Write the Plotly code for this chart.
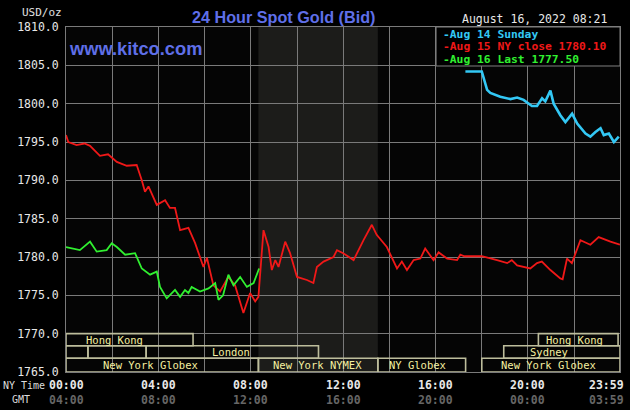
import plotly.graph_objects as go

# ---------------- data ----------------
red_hours = [0.0, 0.1, 0.46, 0.8, 1.04, 1.47, 1.82, 2.2, 2.63, 3.06, 3.28, 3.42, 3.57, 3.93, 4.29, 4.5, 4.72,
             4.94, 5.3, 5.59, 5.95, 6.1, 6.38, 6.67, 7.03, 7.32, 7.68, 7.97, 8.19, 8.33, 8.55, 8.77, 8.91,
             9.06, 9.2, 9.49, 9.7, 10.0, 10.43, 10.71, 10.86, 11.15, 11.58, 11.73, 12.0, 12.45, 12.88,
             13.24, 13.45, 13.89, 14.33, 14.54, 14.76, 15.05, 15.34, 15.55, 15.91, 16.13, 16.5, 16.93,
             17.07, 17.25, 18.0, 18.15, 18.66, 19.1, 19.3, 19.53, 20.1, 20.39, 20.6, 20.97, 21.4, 21.5,
             21.69, 21.9, 22.27, 22.7, 23.06, 23.57, 23.98]
red_values = [1795.9, 1795.0, 1794.6, 1794.8, 1794.5, 1793.2, 1793.4, 1792.4, 1791.9, 1792.0, 1790.0, 1788.5,
              1789.2, 1786.8, 1787.4, 1786.4, 1786.4, 1783.5, 1783.8, 1781.8, 1778.7, 1779.9, 1776.3, 1775.5,
              1777.4, 1776.3, 1772.7, 1775.3, 1774.2, 1774.8, 1783.5, 1781.3, 1778.3, 1779.6, 1778.7, 1782.0,
              1780.5, 1777.4, 1777.0, 1776.6, 1778.7, 1779.4, 1780.0, 1780.9, 1780.5, 1779.6, 1782.2, 1784.2,
              1782.9, 1781.3, 1778.5, 1779.4, 1778.3, 1779.6, 1779.8, 1781.1, 1779.6, 1780.6, 1779.8, 1779.6,
              1780.3, 1780.1, 1780.1, 1780.0, 1779.6, 1779.2, 1779.6, 1778.9, 1778.5, 1779.2, 1779.4, 1778.3,
              1777.2, 1777.1, 1779.8, 1779.2, 1782.2, 1781.6, 1782.6, 1782.0, 1781.6]

green_hours = [0.0, 0.6, 1.04, 1.33, 1.76, 1.98, 2.2, 2.56, 2.99, 3.28, 3.64, 3.93, 4.07, 4.36, 4.72, 4.94,
               5.15, 5.3, 5.44, 5.8, 6.17, 6.46, 6.6, 6.8, 7.03, 7.25, 7.54, 7.83, 8.12, 8.36]
green_values = [1781.3, 1780.9, 1782.0, 1780.7, 1780.9, 1781.8, 1781.3, 1780.3, 1780.5, 1778.5, 1777.7, 1778.1,
                1776.1, 1774.6, 1775.7, 1774.8, 1775.7, 1775.3, 1776.1, 1775.5, 1775.9, 1776.6, 1774.4, 1775.0,
                1777.7, 1776.3, 1777.4, 1776.1, 1776.6, 1778.5]

cyan_hours = [17.29, 18.0, 18.23, 18.37, 18.8, 19.24, 19.53, 19.81, 20.17, 20.39, 20.61, 20.75, 20.97, 21.11,
              21.4, 21.62, 21.91, 22.13, 22.49, 22.7, 22.92, 23.14, 23.28, 23.5, 23.72, 23.93]
cyan_values = [1804.2, 1804.2, 1801.8, 1801.4, 1800.9, 1800.6, 1800.8, 1800.5, 1799.7, 1799.7, 1800.7, 1800.3,
               1801.7, 1800.0, 1798.5, 1797.6, 1798.7, 1797.4, 1796.1, 1795.7, 1796.3, 1796.8, 1795.9, 1796.1,
               1795.0, 1795.7]

legend_labels = ["Aug 14 Sunday", "Aug 15 NY close 1780.10", "Aug 16 Last 1777.50"]

tick_hours = [0, 4, 8, 12, 16, 20, 23.983]
ny_labels = ["00:00", "04:00", "08:00", "12:00", "16:00", "20:00", "23:59"]
gmt_labels = ["04:00", "08:00", "12:00", "16:00", "20:00", "00:00", "03:59"]

y_ticks = [1765, 1770, 1775, 1780, 1785, 1790, 1795, 1800, 1805, 1810]

# trading sessions: row (0 = top), start, end, label, label centre
session_rows = [0, 0, 1, 1, 1, 1, 2, 2, 2, 2]
session_start = [0.0, 20.45, 0.0, 0.95, 3.47, 18.95, 0.0, 8.33, 13.5, 18.0]
session_end = [5.5, 23.9, 0.95, 3.47, 10.93, 23.983, 8.33, 13.5, 17.3, 23.983]
session_label = ["Hong Kong", "Hong Kong", "", "", "London", "Sydney", "New York Globex", "New York NYMEX",
                 "NY Globex", "New York Globex"]
session_label_x = [2.12, 22.0, 0, 0, 7.15, 20.9, 3.65, 10.9, 15.2, 20.9]
row_bounds = [(1768.43, 1770.0), (1766.79, 1768.43), (1765.0, 1766.79)]

nymex_start, nymex_end = 8.33, 13.5
x_max = 23.983

# ---------------- figure ----------------
MONO = "DejaVu Sans Mono"
fig = go.Figure()

fig.add_trace(go.Scatter(x=cyan_hours, y=cyan_values, mode="lines",
                         line=dict(color="#33c8f5", width=2.6), hoverinfo="skip"))
fig.add_trace(go.Scatter(x=red_hours, y=red_values, mode="lines",
                         line=dict(color="#f01818", width=1.8), hoverinfo="skip"))
fig.add_trace(go.Scatter(x=green_hours, y=green_values, mode="lines",
                         line=dict(color="#30f030", width=1.8), hoverinfo="skip"))

shapes = []
# NYMEX shading
shapes.append(dict(type="rect", xref="x", yref="y", x0=nymex_start, x1=nymex_end, y0=1765, y1=1810,
                   fillcolor="#1c1c1a", line=dict(width=0), layer="below"))
# session boxes
for r, s, e in zip(session_rows, session_start, session_end):
    y0, y1 = row_bounds[r]
    shapes.append(dict(type="rect", xref="x", yref="y", x0=s, x1=e, y0=y0, y1=y1,
                       line=dict(color="#bdbd9c", width=1.6), fillcolor="rgba(0,0,0,0)", layer="above"))
# legend box
shapes.append(dict(type="rect", xref="paper", yref="paper", x0=0.668, x1=1.0, y0=0.887, y1=1.0,
                   fillcolor="#000000", line=dict(color="#7f7f7f", width=1), layer="above"))

annotations = []
for r, lab, lx in zip(session_rows, session_label, session_label_x):
    if lab:
        y0, y1 = row_bounds[r]
        annotations.append(dict(x=lx, y=(y0 + y1) / 2, xref="x", yref="y", text=lab, showarrow=False,
                                font=dict(family=MONO, size=10.5, color="#f5f0a0"), xanchor="center",
                                yanchor="middle", borderpad=0))

# time axis labels
n_ticks = len(tick_hours)
for i, (h, ny, gmt) in enumerate(zip(tick_hours, ny_labels, gmt_labels)):
    last = i == n_ticks - 1
    anchor = "right" if last else "center"
    shift = 5 if last else 0
    annotations.append(dict(x=h, y=-0.015, xref="x", yref="paper", text="<b>%s</b>" % ny, showarrow=False,
                            font=dict(family=MONO, size=11.5, color="#e8e8e8"), xanchor=anchor,
                            xshift=shift, yanchor="top", borderpad=0))
    annotations.append(dict(x=h, y=-0.058, xref="x", yref="paper", text="<b>%s</b>" % gmt, showarrow=False,
                            font=dict(family=MONO, size=11.5, color="#666666"), xanchor=anchor,
                            xshift=shift, yanchor="top", borderpad=0))
annotations.append(dict(x=-0.115, y=-0.02, xref="paper", yref="paper", text="NY Time", showarrow=False,
                        font=dict(family=MONO, size=10, color="#dddddd"), xanchor="left", yanchor="top",
                        borderpad=0))
annotations.append(dict(x=-0.099, y=-0.062, xref="paper", yref="paper", text="GMT", showarrow=False,
                        font=dict(family=MONO, size=10, color="#dddddd"), xanchor="left", yanchor="top",
                        borderpad=0))

# titles / texts
annotations.append(dict(x=0.224, y=1.0, xref="paper", yref="paper", text="<b>24 Hour Spot Gold (Bid)</b>",
                        showarrow=False, font=dict(family="Liberation Sans", size=16.2, color="#5f6fe8"),
                        xanchor="left", yanchor="bottom", yshift=-1))
annotations.append(dict(x=0.002, y=0.937, xref="paper", yref="paper", text="<b>www.kitco.com</b>",
                        showarrow=False, font=dict(family="Liberation Sans", size=18.3, color="#5f6fe8"),
                        xanchor="left", yanchor="middle"))
annotations.append(dict(x=-0.005, y=1.0, xref="paper", yref="paper", text="USD/oz", showarrow=False,
                        font=dict(family=MONO, size=11, color="#e0e0e0"), xanchor="right",
                        yanchor="bottom", yshift=7, borderpad=0))
annotations.append(dict(x=0.978, y=1.0, xref="paper", yref="paper", text="August 16, 2022 08:21",
                        showarrow=False, font=dict(family=MONO, size=11.5, color="#e8e8e8"),
                        xanchor="right", yanchor="bottom", yshift=0, borderpad=0))

legend_colors = ["#33c8f5", "#f01818", "#30f030"]
legend_y = [0.979, 0.944, 0.906]
for lab, c, ly in zip(legend_labels, legend_colors, legend_y):
    annotations.append(dict(x=0.678, y=ly, xref="paper", yref="paper", text="<b>-%s</b>" % lab,
                            showarrow=False, font=dict(family=MONO, size=11.3, color=c),
                            xanchor="left", yanchor="middle", borderpad=0))

fig.update_layout(
    width=630, height=410,
    margin=dict(l=66, r=10, t=27, b=38),
    paper_bgcolor="#000000", plot_bgcolor="#050505",
    showlegend=False,
    shapes=shapes, annotations=annotations,
    xaxis=dict(range=[0, x_max], tickvals=list(range(0, 24, 2)), showticklabels=False,
               showgrid=True, gridcolor="#7a7a7a", gridwidth=1, zeroline=False, automargin=False,
               showline=True, linecolor="#7a7a7a", linewidth=1, mirror=True, ticks=""),
    yaxis=dict(range=[1765, 1810], tickvals=y_ticks, tickformat=".1f", automargin=False,
               tickfont=dict(family=MONO, size=11.5, color="#e8e8e8"),
               showgrid=True, gridcolor="#7a7a7a", gridwidth=1, zeroline=False,
               showline=True, linecolor="#7a7a7a", linewidth=1, mirror=True, ticks="",
               ticklabelstandoff=4),
)

fig.write_html("out.html", config={"displayModeBar": False},
               post_script="document.body.style.margin='0';document.body.style.background='#000';")
